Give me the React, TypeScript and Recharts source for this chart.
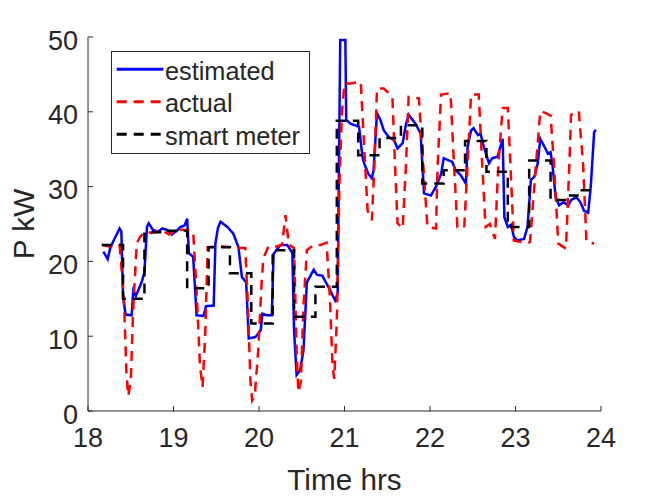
import React from "react";
import { LineChart, Line, XAxis, YAxis, Legend, Label } from "recharts";

// time in hours, power in kW
const estimatedTime = [
  18.18, 18.23, 18.26, 18.3, 18.37, 18.39, 18.41, 18.44, 18.51, 18.53, 18.56, 18.59, 18.63, 18.66,
  18.69, 18.71, 18.76, 18.82, 18.87, 18.93, 18.98, 19.04, 19.08, 19.13, 19.16, 19.18, 19.23, 19.27,
  19.35, 19.38, 19.47, 19.49, 19.52, 19.55, 19.63, 19.7, 19.76, 19.8, 19.85, 19.88, 19.96, 20.02,
  20.04, 20.09, 20.15, 20.17, 20.25, 20.33, 20.39, 20.41, 20.44, 20.48, 20.52, 20.56, 20.64, 20.68,
  20.74, 20.82, 20.89, 20.92, 20.95, 21.01, 21.02, 21.07, 21.17, 21.21, 21.23, 21.28, 21.32, 21.34,
  21.38, 21.42, 21.46, 21.52, 21.58, 21.62, 21.68, 21.72, 21.75, 21.83, 21.89, 21.93, 22.01, 22.07,
  22.13, 22.16, 22.26, 22.3, 22.36, 22.42, 22.44, 22.48, 22.51, 22.56, 22.59, 22.63, 22.69, 22.73,
  22.79, 22.85, 22.87, 22.91, 22.95, 22.98, 23.02, 23.1, 23.14, 23.18, 23.22, 23.26, 23.29, 23.34,
  23.38, 23.41, 23.43, 23.47, 23.51, 23.56, 23.62, 23.65, 23.71, 23.76, 23.8, 23.85, 23.88, 23.92,
  23.94,
];
const estimatedKw = [
  21.3, 20.3, 21.8, 22.8, 24.4, 24.0, 15.2, 12.9, 12.8, 16.1, 15.4, 16.2, 17.3, 18.6,
  24.6, 25.1, 24.2, 24.0, 24.4, 24.2, 23.6, 24.1, 24.6, 24.8, 25.7, 21.1, 20.6, 12.8,
  12.7, 14.0, 14.1, 22.4, 24.5, 25.3, 24.6, 23.7, 21.9, 17.9, 17.2, 9.7, 9.9, 10.8,
  13.0, 12.8, 12.8, 21.0, 22.2, 22.2, 21.1, 10.8, 4.8, 5.4, 8.1, 17.2, 18.9, 18.2,
  18.1, 16.4, 14.8, 15.7, 49.6, 49.6, 38.9, 38.4, 38.0, 34.0, 33.1, 31.7, 31.1, 32.2,
  39.8, 38.9, 37.5, 36.6, 36.2, 35.1, 35.8, 38.4, 39.6, 38.4, 37.1, 29.1, 28.8, 30.0,
  31.7, 33.8, 33.3, 32.2, 31.5, 30.4, 35.3, 37.5, 37.8, 36.9, 37.1, 35.3, 33.1, 33.8,
  34.0, 36.4, 25.9, 24.6, 24.9, 23.3, 22.8, 23.0, 24.6, 30.9, 31.3, 33.1, 36.4, 35.3,
  34.4, 34.6, 33.1, 28.6, 27.5, 27.9, 27.5, 28.2, 28.6, 27.9, 26.8, 26.5, 30.0, 37.3,
  37.6,
];

const actualTime = [
  18.17, 18.25, 18.37, 18.42, 18.45, 18.47, 18.5, 18.53, 18.57, 18.61, 18.67, 18.75, 18.85, 18.95,
  19.05, 19.15, 19.23, 19.27, 19.31, 19.34, 19.37, 19.4, 19.5, 19.6, 19.72, 19.84, 19.87, 19.9,
  19.92, 19.95, 19.99, 20.03, 20.05, 20.11, 20.2, 20.27, 20.31, 20.35, 20.41, 20.44, 20.46, 20.49,
  20.52, 20.56, 20.64, 20.72, 20.79, 20.83, 20.86, 20.88, 20.91, 20.94, 20.97, 21.0, 21.07, 21.19,
  21.22, 21.27, 21.32, 21.35, 21.38, 21.46, 21.56, 21.59, 21.62, 21.68, 21.72, 21.75, 21.87, 21.92,
  21.97, 22.07, 22.09, 22.13, 22.24, 22.28, 22.32, 22.4, 22.44, 22.48, 22.57, 22.61, 22.65, 22.7,
  22.76, 22.8, 22.85, 22.91, 22.94, 22.98, 23.14, 23.17, 23.24, 23.29, 23.36, 23.41, 23.45, 23.5,
  23.59, 23.63, 23.65, 23.74, 23.79, 23.83, 23.92,
];
const actualKw = [
  22.2, 22.0, 22.2, 15.0, 5.0, 2.0, 4.0, 14.0, 22.4, 23.3, 24.0, 23.8, 24.2, 23.6,
  24.3, 24.2, 24.0, 16.0, 6.0, 3.2, 10.0, 21.9, 22.0, 22.0, 21.8, 21.8, 14.0, 4.0,
  1.4, 2.0, 8.0, 17.0, 20.4, 22.0, 22.0, 22.2, 26.2, 22.2, 21.8, 8.0, 2.5, 4.0,
  14.0, 21.5, 22.2, 22.2, 22.5, 15.0, 6.0, 4.3, 12.0, 30.0, 40.0, 43.8, 43.8, 44.0,
  37.5, 26.8, 25.5, 33.1, 43.1, 43.1, 42.0, 33.1, 25.1, 24.4, 33.1, 42.0, 41.8, 33.1,
  24.6, 24.4, 33.1, 42.3, 42.5, 33.1, 24.6, 24.5, 33.1, 42.3, 42.3, 33.1, 24.6, 25.0,
  23.0, 33.1, 40.5, 40.5, 33.1, 22.8, 22.4, 22.6, 33.0, 40.1, 39.8, 39.5, 33.0, 22.4,
  21.7, 33.1, 39.6, 40.1, 33.1, 22.6, 22.4,
];

const meterTime = [
  18.16, 18.41, 18.66, 18.91, 19.16, 19.41, 19.66, 19.91, 20.16, 20.41, 20.66, 20.91, 21.16, 21.41,
  21.66, 21.91, 22.16, 22.41, 22.66, 22.91, 23.16, 23.41, 23.6, 23.75, 23.88,
];
const meterKw = [
  22.2, 15.0, 23.9, 24.1, 16.4, 21.9, 18.4, 11.7, 21.5, 12.6, 16.6, 38.8, 34.2, 36.5,
  38.2, 30.4, 32.2, 36.1, 32.0, 24.6, 33.5, 28.2, 28.8, 29.5, 29.5,
];

const timeTicks = [18, 19, 20, 21, 22, 23, 24];
const powerTicks = [0, 10, 20, 30, 40, 50];

const zip = (t: number[], p: number[]) => t.map((x, i) => ({ t: x, p: p[i] }));
const estimatedData = zip(estimatedTime, estimatedKw);
const actualData = zip(actualTime, actualKw);
const meterData = zip(meterTime, meterKw);

const FONT = "'Liberation Sans', Arial, Helvetica, sans-serif";
const AXIS = "#262626";
const DASH = "10 7";

const legendItems = [
  { name: "estimated", color: "#0000ff", dash: undefined },
  { name: "actual", color: "#ff0000", dash: DASH },
  { name: "smart meter", color: "#000000", dash: DASH },
];

function renderLegend() {
  return (
    <svg width={200} height={104} style={{ display: "block" }}>
      <rect x={0.5} y={0.5} width={198} height={102} fill="#fff" stroke={AXIS} strokeWidth={1} />
      {legendItems.map((s, i) => {
        const cy = 18.3 + i * 32.5;
        return (
          <g key={s.name}>
            <line x1={5.7} x2={52.3} y1={cy} y2={cy} stroke={s.color} strokeWidth={3} strokeDasharray={s.dash} />
            <text x={54} y={cy + 10.5} fontSize={25.3} fontFamily={FONT} fill={AXIS}>
              {s.name}
            </text>
          </g>
        );
      })}
    </svg>
  );
}

function renderYLabel(props: any) {
  const vb = props.viewBox || {};
  const cx = 23;
  const cy = (vb.y || 0) + (vb.height || 0) / 2;
  return (
    <text
      x={cx}
      y={cy}
      transform={`rotate(-90 ${cx} ${cy})`}
      textAnchor="middle"
      dominantBaseline="central"
      fontSize={29.7}
      fontFamily={FONT}
      fill={AXIS}
    >
      P kW
    </text>
  );
}

export default function App() {
  return (
    <div style={{ position: "absolute", left: 0, top: 0, background: "#fff" }}>
      <LineChart width={664} height={498} margin={{ top: 37, right: 63, bottom: 0, left: 0 }}>
        <XAxis
          type="number"
          dataKey="t"
          domain={[18, 24]}
          ticks={timeTicks}
          height={87}
          tickSize={-5}
          tickMargin={22}
          stroke={AXIS}
          tick={{ fill: AXIS, fontSize: 27, fontFamily: FONT }}
          allowDataOverflow
        >
          <Label
            value="Time hrs"
            position="insideBottom"
            offset={8}
            style={{ fontSize: 29.7, fontFamily: FONT, fill: AXIS }}
          />
        </XAxis>
        <YAxis
          type="number"
          domain={[0, 50]}
          ticks={powerTicks}
          width={88}
          tickSize={-5}
          tickMargin={15}
          stroke={AXIS}
          tick={{ fill: AXIS, fontSize: 27, fontFamily: FONT, dy: 3 }}
          allowDataOverflow
        >
          <Label content={renderYLabel} />
        </YAxis>
        <Legend
          content={renderLegend}
          layout="vertical"
          align="center"
          verticalAlign="middle"
          wrapperStyle={{ left: 110.5, top: 50.7, width: 200, height: 104 }}
        />
        <Line
          data={estimatedData}
          dataKey="p"
          type="linear"
          stroke="#0000ff"
          strokeWidth={2.5}
          dot={false}
          isAnimationActive={false}
        />
        <Line
          data={actualData}
          dataKey="p"
          type="linear"
          stroke="#ff0000"
          strokeWidth={2.5}
          strokeDasharray={DASH}
          dot={false}
          isAnimationActive={false}
        />
        <Line
          data={meterData}
          dataKey="p"
          type="stepAfter"
          stroke="#000000"
          strokeWidth={2.5}
          strokeDasharray={DASH}
          dot={false}
          isAnimationActive={false}
        />
      </LineChart>
    </div>
  );
}
